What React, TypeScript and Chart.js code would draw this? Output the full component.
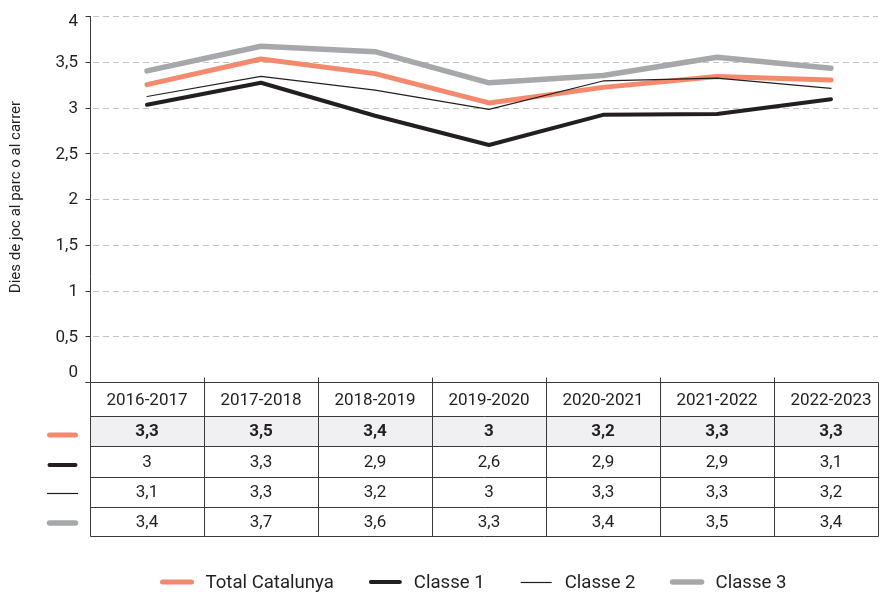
import React, { useEffect, useRef } from "react";
import { Chart, registerables } from "chart.js";

Chart.register(...registerables);

const categories = ["2016-2017", "2017-2018", "2018-2019", "2019-2020", "2020-2021", "2021-2022", "2022-2023"];
const seriesNames = ["Total Catalunya", "Classe 1", "Classe 2", "Classe 3"];

const totalCatalunya = [3.25, 3.53, 3.37, 3.05, 3.22, 3.34, 3.3];
const classe1 = [3.03, 3.27, 2.91, 2.59, 2.92, 2.93, 3.09];
const classe2 = [3.12, 3.34, 3.19, 2.98, 3.29, 3.32, 3.21];
const classe3 = [3.4, 3.67, 3.61, 3.27, 3.35, 3.55, 3.43];

const tableTotal = ["3,3", "3,5", "3,4", "3", "3,2", "3,3", "3,3"];
const tableClasse1 = ["3", "3,3", "2,9", "2,6", "2,9", "2,9", "3,1"];
const tableClasse2 = ["3,1", "3,3", "3,2", "3", "3,3", "3,3", "3,2"];
const tableClasse3 = ["3,4", "3,7", "3,6", "3,3", "3,4", "3,5", "3,4"];

const yTickValues = [0, 0.5, 1, 1.5, 2, 2.5, 3, 3.5, 4];
const yTickLabels = ["0", "0,5", "1", "1,5", "2", "2,5", "3", "3,5", "4"];
const yTitle = "Dies de joc al parc o al carrer";

const COLORS = ["#F3896D", "#231F20", "#231F20", "#A7A8AB"];
const WIDTHS = [5, 4, 1.2, 5.5];
const FONT = "Roboto, 'Noto Sans', sans-serif";
const TEXT = "#231F20";
const LINE = "#3a3a3a";

const tablePlugin = {
  id: "tablePlugin",
  beforeDatasetsDraw(chart: any) {
    const ctx = chart.ctx;
    const y = chart.scales.y;
    const area = chart.chartArea;
    const right = 878;
    ctx.save();
    ctx.strokeStyle = "#c3c3c3";
    ctx.lineWidth = 1;
    ctx.setLineDash([6, 4]);
    yTickValues.forEach((v) => {
      if (v === 0) return;
      const py = Math.round(y.getPixelForValue(v)) + 0.5;
      ctx.beginPath();
      ctx.moveTo(area.left + 3, py);
      ctx.lineTo(right, py);
      ctx.stroke();
    });
    ctx.restore();
  },
  afterDraw(chart: any) {
    const ctx = chart.ctx;
    const xs = chart.scales.x;
    const ys = chart.scales.y;
    const area = chart.chartArea;
    const left = Math.round(area.left) + 0.5;
    const right = 878.5;
    const axisY = Math.round(area.bottom) + 0.5;
    const colW = (area.right - area.left) / categories.length;
    const rowLines = [416, 446, 477, 507, 536];
    ctx.save();

    // first data row background
    ctx.fillStyle = "#F0F0F2";
    ctx.fillRect(left, rowLines[0] + 0.5, right - left, rowLines[1] - rowLines[0]);

    ctx.strokeStyle = LINE;
    ctx.lineWidth = 1;
    ctx.setLineDash([]);
    // y axis line + table left border
    ctx.beginPath();
    ctx.moveTo(left, area.top);
    ctx.lineTo(left, rowLines[4] + 0.5);
    ctx.stroke();
    // y ticks
    yTickValues.forEach((v) => {
      const py = Math.round(ys.getPixelForValue(v)) + 0.5;
      ctx.beginPath();
      ctx.moveTo(left - 5, py);
      ctx.lineTo(left, py);
      ctx.stroke();
    });
    // x axis line (table top)
    ctx.beginPath();
    ctx.moveTo(left - 5, axisY);
    ctx.lineTo(right, axisY);
    ctx.stroke();
    // column separators + ticks
    for (let i = 1; i < categories.length; i++) {
      const px = Math.round(area.left + i * colW) + 0.5;
      ctx.beginPath();
      ctx.moveTo(px, axisY - 5);
      ctx.lineTo(px, rowLines[4] + 0.5);
      ctx.stroke();
    }
    ctx.beginPath();
    ctx.moveTo(right, axisY);
    ctx.lineTo(right, rowLines[4] + 0.5);
    ctx.stroke();
    rowLines.forEach((ry) => {
      ctx.beginPath();
      ctx.moveTo(left, ry + 0.5);
      ctx.lineTo(right, ry + 0.5);
      ctx.stroke();
    });

    // table text
    ctx.fillStyle = TEXT;
    ctx.textAlign = "center";
    ctx.textBaseline = "middle";
    const rowsText = [categories, tableTotal, tableClasse1, tableClasse2, tableClasse3];
    const rowTops = [axisY, ...rowLines];
    rowsText.forEach((row, r) => {
      ctx.font = (r === 1 ? "bold " : "") + "17px " + FONT;
      const cy = (rowTops[r] + rowTops[r + 1]) / 2 + 1;
      row.forEach((t, i) => {
        ctx.fillText(t, xs.getPixelForValue(i), cy);
      });
    });

    // row swatches
    const swY = [435, 465, 493, 523];
    for (let s = 0; s < 4; s++) {
      ctx.strokeStyle = COLORS[s];
      ctx.lineWidth = WIDTHS[s];
      const thin = WIDTHS[s] < 2;
      ctx.lineCap = thin ? "butt" : "round";
      ctx.beginPath();
      ctx.moveTo(thin ? 47 : 49.5, swY[s] + (thin ? 0.5 : 0));
      ctx.lineTo(thin ? 78 : 75.5, swY[s] + (thin ? 0.5 : 0));
      ctx.stroke();
    }

    // y tick labels
    ctx.fillStyle = TEXT;
    ctx.font = "17px " + FONT;
    ctx.textAlign = "right";
    ctx.textBaseline = "middle";
    yTickValues.forEach((v, i) => {
      let py = ys.getPixelForValue(v);
      if (v === yTickValues[yTickValues.length - 1]) py += 5;
      if (v === 0) py -= 10;
      ctx.fillText(yTickLabels[i], 78, py + 1);
    });

    // y title
    ctx.save();
    ctx.translate(16, 197);
    ctx.rotate(-Math.PI / 2);
    ctx.font = "15px " + FONT;
    ctx.textAlign = "center";
    ctx.textBaseline = "middle";
    ctx.fillText(yTitle, 0, 0);
    ctx.restore();

    // legend
    ctx.font = "18.6px " + FONT;
    ctx.textAlign = "left";
    ctx.textBaseline = "middle";
    let lx = 162.5;
    const ly = 582;
    for (let s = 0; s < 4; s++) {
      ctx.strokeStyle = COLORS[s];
      ctx.lineWidth = WIDTHS[s];
      const thin = WIDTHS[s] < 2;
      ctx.lineCap = thin ? "butt" : "round";
      ctx.beginPath();
      ctx.moveTo(thin ? lx - 1 : lx, ly + (thin ? 0.5 : 0));
      ctx.lineTo(thin ? lx + 30 : lx + 29, ly + (thin ? 0.5 : 0));
      ctx.stroke();
      const tx = lx + 43;
      ctx.fillStyle = TEXT;
      ctx.fillText(seriesNames[s], tx, ly + 1);
      lx = tx + ctx.measureText(seriesNames[s]).width + 37;
    }
    ctx.restore();
  },
};

export default function App() {
  const ref = useRef<HTMLCanvasElement | null>(null);
  useEffect(() => {
    if (!ref.current) return;
    const seriesData = [totalCatalunya, classe1, classe2, classe3];
    const orders = [1, 2, 0, 3];
    const chart = new Chart(ref.current, {
      type: "line",
      data: {
        labels: categories,
        datasets: seriesData.map((d, i) => ({
          label: seriesNames[i],
          data: d,
          borderColor: COLORS[i],
          backgroundColor: COLORS[i],
          borderWidth: WIDTHS[i],
          pointRadius: 0,
          tension: 0,
          borderJoinStyle: "round" as const,
          borderCapStyle: "round" as const,
          order: orders[i],
        })),
      },
      options: {
        responsive: false,
        animation: false,
        layout: { padding: { top: 16, right: 2, left: 0, bottom: 0 } },
        plugins: { legend: { display: false }, tooltip: { enabled: false } },
        scales: {
          x: {
            offset: true,
            ticks: { display: false },
            grid: { display: false },
            border: { display: false },
            afterFit: (s: any) => {
              s.height = 210;
            },
          },
          y: {
            min: 0,
            max: 4,
            ticks: { display: false, stepSize: 0.5 },
            grid: { display: false },
            border: { display: false },
            afterFit: (s: any) => {
              s.width = 90;
            },
          },
        },
      },
      plugins: [tablePlugin],
    });
    return () => chart.destroy();
  }, []);
  return (
    <div
      style={{
        position: "fixed",
        left: 0,
        top: 0,
        width: 880,
        height: 592,
        overflow: "hidden",
        background: "#fff",
      }}
    >
      <canvas ref={ref} width={890} height={592} style={{ display: "block" }} />
    </div>
  );
}
